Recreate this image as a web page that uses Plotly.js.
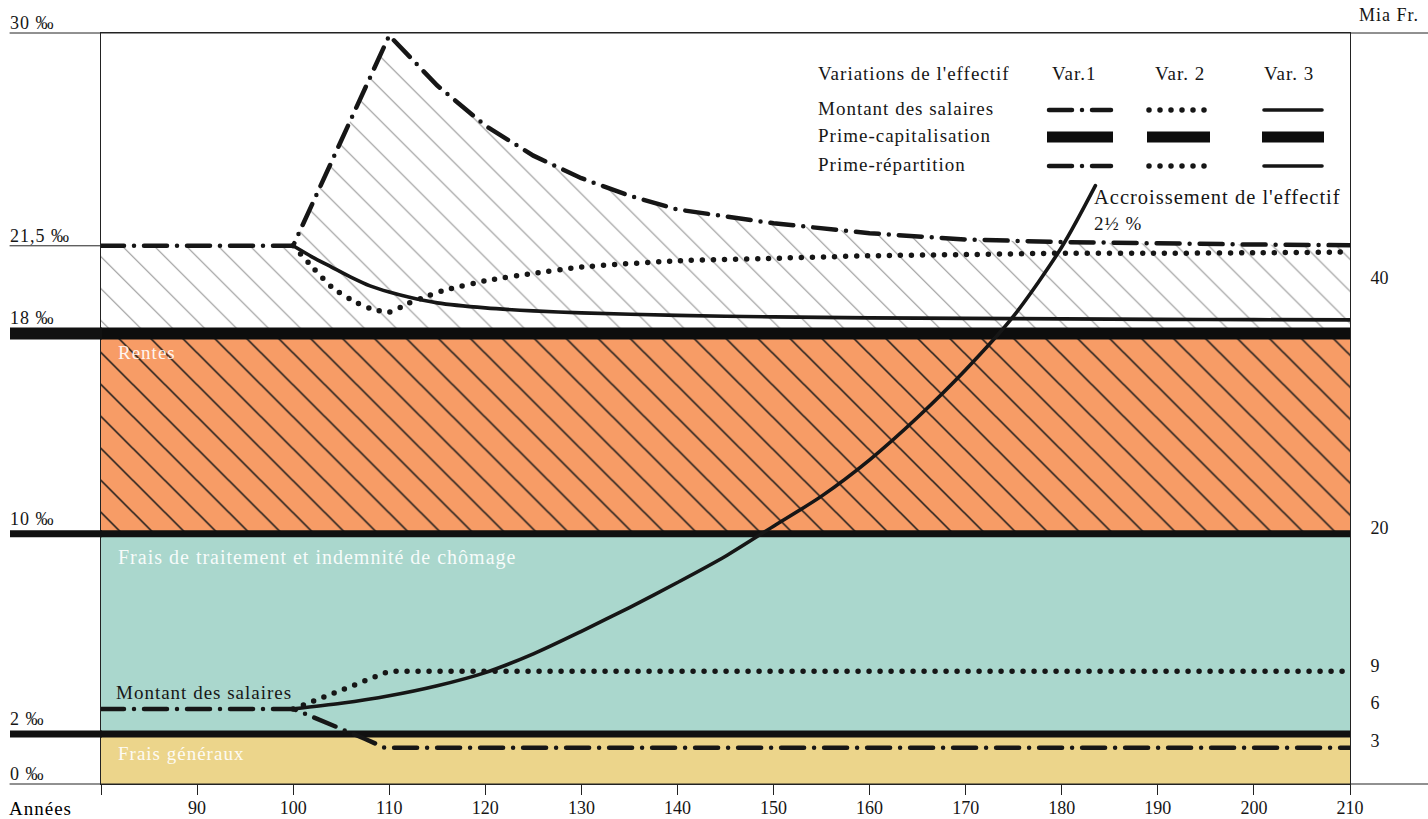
<!DOCTYPE html>
<html><head><meta charset="utf-8">
<script src="https://cdn.plot.ly/plotly-3.0.1.min.js"></script>
<style>
html,body{margin:0;padding:0;background:#fff;}
#chart{width:1428px;height:819px;}
.scatterlayer .js-line{stroke-linecap:round;}
.shapelayer path{stroke-linecap:round;}
.annotation-text{letter-spacing:1px;}
</style>
</head><body><div id="chart"></div>
<script>
// ---------------- DATA ----------------
const xSpan = [80, 210];
const xTickVals = [80, 90, 100, 110, 120, 130, 140, 150, 160, 170, 180, 190, 200, 210];
const xTickText = ["", "90", "100", "110", "120", "130", "140", "150", "160", "170", "180", "190", "200", "210"];

const leftTickVals = [0, 2, 10, 18, 21.5, 30];
const leftTickText = ["0 ‰", "2 ‰", "10 ‰", "18 ‰", "21,5 ‰", "30 ‰"];
const rightTickVals = [3, 6, 9, 20, 40];
const rightTickText = ["3", "6", "9", "20", "40"];

// band boundaries (‰)
const levelFraisGeneraux = 2;
const levelTraitement = 10;
const levelRentes = 18;          // also Prime-capitalisation
const bandLabels = ["Frais généraux", "Frais de traitement et indemnité de chômage", "Rentes"];

// Prime-répartition (‰, left axis)
const repV1x = [80, 100, 110, 115, 120, 125, 130, 135, 140, 150, 160, 170, 180, 190, 200, 210];
const repV1y = [21.5, 21.5, 29.9, 27.9, 26.3, 25.1, 24.2, 23.5, 22.95, 22.4, 22.0, 21.75, 21.65, 21.58, 21.55, 21.52];
const repV2x = [100, 102, 104, 106, 108, 110, 112, 114, 116, 120, 125, 130, 140, 150, 160, 170, 180, 190, 200, 210];
const repV2y = [21.5, 20.65, 19.85, 19.35, 19.0, 18.85, 19.2, 19.5, 19.75, 20.1, 20.4, 20.65, 20.9, 21.0, 21.1, 21.15, 21.2, 21.2, 21.22, 21.25];
const repV3x = [100, 102, 104, 106, 108, 110, 112, 115, 120, 125, 130, 140, 150, 160, 170, 180, 190, 200, 210];
const repV3y = [21.5, 21.05, 20.65, 20.25, 19.9, 19.65, 19.45, 19.22, 19.02, 18.9, 18.82, 18.72, 18.66, 18.62, 18.6, 18.58, 18.56, 18.55, 18.54];

// Montant des salaires (Mia Fr., right axis)
const salV1x = [80, 100, 107.5, 109.5, 210];
const salV1y = [6, 6, 3.6, 2.9, 2.9];
const salV2x = [100, 102, 104, 106, 108, 110, 210];
const salV2y = [6, 6.6, 7.3, 7.85, 8.45, 9, 9];
const salV3x = [100, 105, 110, 115, 120, 125, 130, 135, 140, 145, 150, 155, 160, 165, 170, 175, 180, 183.5];
const salV3y = [6.0, 6.45, 7.05, 7.85, 8.9, 10.4, 12.2, 14.1, 16.1, 18.2, 20.6, 23.0, 25.9, 29.3, 33.1, 37.4, 42.9, 47.8];

// legend texts
const legendHeader = ["Variations de l'effectif", "Var.1", "Var. 2", "Var. 3"];
const legendRows = ["Montant des salaires", "Prime-capitalisation", "Prime-répartition"];
const growthLabel = ["Accroissement de l'effectif", "2½ %"];

// ---------------- STYLES ----------------
const FONT = "Liberation Serif, DejaVu Serif, serif";
const INK = "#161616";
const varDash = ["23px,10px,0px,10px", "0px,11px", "solid"];
const varWidth = [4.5, 5.5, 3.6];
const C_YELLOW = "#ecd58b", C_TEAL = "#aad7cd", C_ORANGE = "#f79c66";

// pixel helpers (plot area 101..1350 x 33..784)
const L = 101, R = 1350, T = 33, B = 784;
const px = p => (p - L) / (R - L);
const py = p => (B - p) / (B - T);

// ---------------- TRACES ----------------
const flat = v => xSpan.map(() => v);
const traces = [];
traces.push({x: xSpan, y: flat(levelFraisGeneraux), mode: "lines", line: {width: 0}, fill: "tozeroy", fillcolor: C_YELLOW, hoverinfo: "skip"});
traces.push({x: xSpan, y: flat(levelTraitement), mode: "lines", line: {width: 0}, fill: "tonexty", fillcolor: C_TEAL, hoverinfo: "skip"});
traces.push({x: xSpan, y: flat(levelRentes), mode: "lines", line: {width: 0}, fill: "tonexty", fillcolor: C_ORANGE,
  fillpattern: {shape: "\\", size: 22.6, solidity: 0.07, bgcolor: C_ORANGE, fgcolor: "#1a1a1a", fgopacity: 1, fillmode: "replace"}, hoverinfo: "skip"});
traces.push({x: repV1x, y: repV1y, mode: "lines", line: {width: 0}, fill: "tonexty", fillcolor: "rgba(0,0,0,0)",
  fillpattern: {shape: "\\", size: 22.6, solidity: 0.045, bgcolor: "rgba(255,255,255,0)", fgcolor: "#909090", fgopacity: 1, fillmode: "replace"}, hoverinfo: "skip"});
// boundary lines
traces.push({x: xSpan, y: flat(levelFraisGeneraux), mode: "lines", line: {color: "#111", width: 7}});
traces.push({x: xSpan, y: flat(levelTraitement), mode: "lines", line: {color: "#111", width: 7}});
// prime-capitalisation
traces.push({x: xSpan, y: flat(levelRentes), mode: "lines", line: {color: "#0d0d0d", width: 12}});
// prime-répartition
traces.push({x: repV3x, y: repV3y, mode: "lines", line: {color: INK, width: varWidth[2], dash: varDash[2], shape: "spline", smoothing: 0.6}});
traces.push({x: repV2x, y: repV2y, mode: "lines", line: {color: INK, width: varWidth[1], dash: varDash[1], shape: "spline", smoothing: 0.6}});
traces.push({x: repV1x, y: repV1y, mode: "lines", line: {color: INK, width: varWidth[0], dash: varDash[0]}});
// montant des salaires (right axis)
traces.push({x: salV3x, y: salV3y, yaxis: "y2", mode: "lines", line: {color: INK, width: varWidth[2], dash: varDash[2], shape: "spline", smoothing: 0.8}});
traces.push({x: salV2x, y: salV2y, yaxis: "y2", mode: "lines", line: {color: INK, width: varWidth[1], dash: varDash[1]}});
traces.push({x: salV1x, y: salV1y, yaxis: "y2", mode: "lines", line: {color: INK, width: varWidth[0], dash: varDash[0]}});

// ---------------- ANNOTATIONS ----------------
const ann = [];
const F = (s, c) => ({family: FONT, size: s, color: c || INK});
const txt = (x, y, text, opt) => Object.assign({xref: "paper", yref: "paper", x: x, y: y, text: text, showarrow: false,
  xanchor: "left", yanchor: "middle", font: F(19)}, opt || {});
const dtxt = (x, y, text, font) => ({x: x, y: y, xref: "x", yref: "y", text: text, showarrow: false, xanchor: "left", yanchor: "middle", font: font});

// left ‰ labels
leftTickVals.forEach((v, i) => {
  const thick = (v === 2 || v === 10 || v === 18);
  ann.push(txt(px(8), v / 30, leftTickText[i], {yshift: thick ? 15 : 10, font: F(18)}));
});
ann.push(txt(px(7), py(808), "Années", {font: F(19, "#000")}));
ann.push(txt(px(1357), py(15), "Mia Fr.", {font: F(18)}));

// band labels (data coordinates)
const white = "rgba(255,255,255,0.92)";
ann.push(dtxt(81.6, 17.25, bandLabels[2], F(19, white)));
ann.push(dtxt(81.6, 9.05, bandLabels[1], F(20, white)));
ann.push(dtxt(81.6, 1.2, bandLabels[0], F(19, white)));
ann.push(dtxt(81.4, 3.65, legendRows[0], F(19)));
ann.push(dtxt(183.1, 23.45, growthLabel[0], F(20.5)));
ann.push(dtxt(183.1, 22.4, growthLabel[1], F(19)));

// legend texts
const headX = [816, 1050, 1153, 1262];
legendHeader.forEach((t, i) => ann.push(txt(px(headX[i]), py(73), t)));
const rowY = [108, 136, 164];
legendRows.forEach((t, i) => ann.push(txt(px(816), py(rowY[i]), t)));

// ---------------- SHAPES ----------------
const shapes = [];
const thin = {color: "#222", width: 1};
// frame extensions
shapes.push({type: "line", xref: "paper", yref: "paper", x0: px(10), x1: px(1428), y0: 1, y1: 1, line: thin});
shapes.push({type: "line", xref: "paper", yref: "paper", x0: px(10), x1: px(1428), y0: 0, y1: 0, line: thin});
shapes.push({type: "line", xref: "paper", yref: "paper", x0: px(10), x1: 0, y0: 21.5 / 30, y1: 21.5 / 30, line: thin});
// thick line extensions to the labels
[[levelRentes, 6], [levelTraitement, 3.5], [levelFraisGeneraux, 3.5]].forEach(([v, h]) => {
  shapes.push({type: "rect", xref: "paper", yref: "paper", x0: px(10), x1: px(102), y0: v / 30 - h / 751, y1: v / 30 + h / 751,
    fillcolor: "#111", line: {width: 0}});
});
// legend swatches
const colX = [[1049, 1111], [1149, 1208], [1264, 1322]];
const swY = [110, 137, 166];
colX.forEach((c, i) => {
  [0, 2].forEach(r => shapes.push({type: "line", xref: "paper", yref: "paper", x0: px(c[0]), x1: px(c[1]), y0: py(swY[r]), y1: py(swY[r]),
    line: {color: INK, width: varWidth[i], dash: varDash[i]}}));
  shapes.push({type: "rect", xref: "paper", yref: "paper", x0: px(c[0] - 2), x1: px(c[1] + 2), y0: py(swY[1] + 5.5), y1: py(swY[1] - 5.5),
    fillcolor: "#0d0d0d", line: {width: 0}});
});

// ---------------- LAYOUT ----------------
const layout = {
  width: 1428, height: 819,
  margin: {l: L, r: 1428 - R, t: T, b: 819 - B, pad: 0},
  paper_bgcolor: "#fff", plot_bgcolor: "#fff",
  showlegend: false,
  font: {family: FONT, size: 17, color: INK},
  xaxis: {range: xSpan, tickvals: xTickVals, ticktext: xTickText, ticks: "outside", ticklen: 10, tickwidth: 1, tickcolor: "#222",
    showline: true, linecolor: "#222", linewidth: 1, mirror: true, showgrid: false, zeroline: false, ticklabelstandoff: -3,
    tickfont: {family: FONT, size: 18, color: INK}, fixedrange: true},
  yaxis: {range: [0, 30], showticklabels: false, ticks: "", showline: true, linecolor: "#222", linewidth: 1,
    showgrid: false, zeroline: false, fixedrange: true},
  yaxis2: {range: [0, 60], overlaying: "y", side: "right", tickvals: rightTickVals, ticktext: rightTickText, ticks: "",
    showline: true, linecolor: "#222", linewidth: 1, showgrid: false, zeroline: false, ticklabelshift: -6, ticklabelstandoff: 16,
    tickfont: {family: FONT, size: 18, color: INK}, fixedrange: true},
  annotations: ann,
  shapes: shapes
};

Plotly.newPlot("chart", traces, layout, {staticPlot: true, displayModeBar: false});
</script>
</body></html>
